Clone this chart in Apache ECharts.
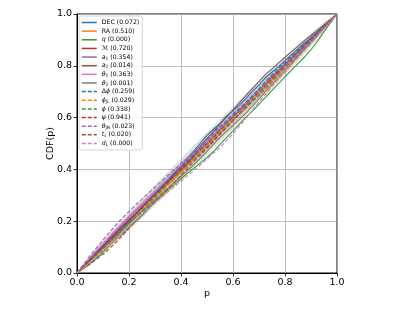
<!DOCTYPE html>
<html>
<head>
<meta charset="utf-8">
<script src="https://cdn.jsdelivr.net/npm/echarts@6/dist/echarts.min.js"></script>
<style>html,body{margin:0;padding:0;background:#fff;}#c{width:415px;height:311px;}</style>
</head>
<body>
<div id="c"></div>
<script>
// p grid for the curves (x values)
const pGrid = [0,.025,.05,.075,.1,.125,.15,.175,.2,.225,.25,.275,.3,.325,.35,.375,.4,.425,.45,.475,.5,
               .525,.55,.575,.6,.625,.65,.675,.7,.725,.75,.775,.8,.825,.85,.875,.9,.925,.95,.975,1];
// p grid for the confidence bands
const pBand = [0,.05,.1,.15,.2,.25,.3,.35,.4,.45,.5,.55,.6,.65,.7,.75,.8,.85,.9,.95,1];
const tickValues = [0,0.2,0.4,0.6,0.8,1.0];
// confidence band half-widths (3, 2, 1 sigma)
const band3 = [0,.020,.027,.032,.036,.039,.041,.042,.043,.044,.044,.044,.043,.042,.041,.039,.036,.032,.027,.020,0];
const band2 = [0,.013,.018,.021,.024,.026,.027,.028,.029,.029,.029,.029,.029,.028,.027,.026,.024,.021,.018,.013,0];
const band1 = [0,.007,.009,.011,.012,.013,.014,.014,.014,.015,.015,.015,.014,.014,.014,.013,.012,.011,.009,.007,0];

// series CDF values
const cdfDEC   = [0,.027,.054,.082,.106,.134,.158,.182,.205,.228,.254,.281,.307,.334,.360,.388,.416,.444,.472,.502,.532,.555,.578,.606,.626,.648,.674,.702,.726,.754,.776,.797,.820,.843,.866,.888,.909,.932,.954,.977,1];
const cdfRA    = [0,.024,.047,.070,.095,.118,.142,.166,.190,.217,.243,.270,.296,.319,.342,.364,.388,.415,.440,.466,.492,.519,.545,.567,.590,.613,.637,.665,.692,.719,.746,.769,.793,.816,.842,.869,.895,.921,.948,.974,1];
const cdfQ     = [0,.017,.036,.057,.080,.106,.130,.152,.176,.198,.222,.249,.275,.297,.320,.342,.364,.385,.405,.425,.446,.469,.497,.523,.549,.576,.602,.625,.652,.678,.705,.731,.757,.783,.808,.834,.862,.895,.932,.966,1];
const cdfMc    = [0,.027,.053,.079,.104,.128,.154,.178,.202,.229,.255,.280,.304,.327,.351,.374,.397,.423,.450,.477,.504,.530,.556,.580,.604,.627,.651,.678,.705,.732,.758,.782,.806,.829,.853,.878,.903,.927,.952,.976,1];
const cdfA1    = [0,.029,.057,.084,.110,.137,.163,.189,.215,.239,.263,.286,.310,.334,.360,.383,.407,.431,.455,.478,.502,.528,.554,.581,.607,.631,.655,.679,.704,.728,.752,.778,.805,.831,.856,.880,.904,.928,.952,.976,1];
const cdfA2    = [0,.027,.053,.076,.100,.123,.146,.170,.197,.225,.252,.279,.305,.331,.354,.382,.409,.437,.464,.492,.520,.547,.575,.602,.630,.658,.686,.713,.740,.767,.788,.811,.833,.855,.876,.897,.917,.938,.958,.979,1];
const cdfT1    = [0,.030,.059,.087,.114,.141,.168,.194,.220,.246,.270,.294,.318,.344,.370,.393,.416,.438,.461,.484,.507,.532,.558,.584,.610,.634,.657,.680,.704,.728,.752,.776,.800,.823,.847,.871,.895,.921,.948,.974,1];
const cdfT2    = [0,.023,.046,.069,.093,.116,.139,.165,.191,.214,.237,.259,.282,.305,.328,.350,.373,.395,.418,.444,.470,.497,.523,.546,.570,.593,.617,.644,.672,.700,.727,.754,.781,.808,.836,.864,.891,.919,.946,.973,1];
const cdfDphi  = [0,.027,.053,.079,.105,.128,.152,.174,.197,.224,.250,.277,.304,.331,.358,.384,.410,.435,.459,.486,.513,.540,.566,.589,.613,.636,.660,.685,.711,.739,.766,.790,.814,.837,.860,.883,.906,.929,.953,.976,1];
const cdfPhiJL = [0,.021,.043,.065,.086,.107,.129,.150,.173,.199,.226,.254,.282,.309,.337,.363,.389,.412,.434,.457,.480,.506,.532,.559,.586,.614,.641,.664,.687,.709,.732,.758,.784,.812,.839,.866,.893,.920,.946,.973,1];
const cdfPhi   = [0,.023,.046,.070,.093,.119,.144,.168,.191,.215,.239,.265,.292,.319,.346,.371,.395,.418,.441,.464,.487,.513,.539,.566,.592,.615,.639,.662,.685,.712,.739,.766,.792,.815,.839,.865,.891,.919,.946,.973,1];
const cdfPsi   = [0,.026,.052,.076,.100,.127,.153,.179,.205,.228,.252,.275,.299,.326,.352,.378,.404,.428,.452,.475,.498,.524,.550,.577,.603,.629,.655,.678,.702,.725,.749,.775,.802,.828,.853,.877,.900,.926,.952,.976,1];
const cdfTJN   = [0,.034,.066,.097,.128,.157,.186,.213,.238,.262,.285,.309,.332,.355,.378,.400,.422,.445,.467,.490,.512,.535,.559,.583,.608,.632,.655,.678,.702,.726,.750,.773,.797,.821,.845,.870,.896,.922,.948,.974,1];
const cdfTc    = [0,.017,.034,.053,.072,.094,.118,.145,.173,.201,.228,.254,.280,.303,.325,.351,.377,.404,.431,.457,.483,.509,.536,.563,.589,.616,.643,.670,.697,.724,.750,.777,.803,.829,.855,.879,.903,.928,.952,.976,1];
const cdfDL    = [0,.020,.041,.064,.087,.111,.134,.157,.180,.203,.226,.248,.270,.292,.313,.334,.354,.375,.396,.418,.440,.462,.485,.511,.538,.567,.597,.628,.660,.690,.720,.748,.776,.804,.832,.859,.886,.915,.943,.971,1];

const seriesNames = ['DEC','RA','q','Mc','a1','a2','theta1','theta2','dphi','phiJL','phi','psi','thetaJN','tc','dL'];
const seriesLabels = [
  'DEC (0.072)', 'RA (0.510)', '{i|q} (0.000)', '\u2133 (0.720)', '{i|a}{s|1} (0.354)', '{i|a}{s|2} (0.014)',
  '{i|\u03b8}{s|1} (0.363)', '{i|\u03b8}{s|2} (0.001)', '\u0394{i|\u03d5} (0.259)', '{i|\u03d5}{s|JL} (0.029)',
  '{i|\u03d5} (0.338)', '{i|\u03c8} (0.941)', '{i|\u03b8}{s|JN} (0.023)', '{i|t}{s|c} (0.020)', '{i|d}{s|L} (0.000)'
];
const seriesValues = [cdfDEC,cdfRA,cdfQ,cdfMc,cdfA1,cdfA2,cdfT1,cdfT2,cdfDphi,cdfPhiJL,cdfPhi,cdfPsi,cdfTJN,cdfTc,cdfDL];
const seriesColors = ['#1f77b4','#ff7f0e','#2ca02c','#d62728','#9467bd','#8c564b','#e377c2','#7f7f7f',
                      '#1f77b4','#ff7f0e','#2ca02c','#d62728','#9467bd','#8c564b','#e377c2'];
const seriesDashed = [false,false,false,false,false,false,false,false,true,true,true,true,true,true,true];

const FONT = 'DejaVu Sans';

function bandSeries(hw) {
  return {
    type: 'custom',
    silent: true,
    z: 1,
    data: [[0, 0]],
    renderItem: function (params, api) {
      const pts = [];
      for (let i = 0; i < pBand.length; i++) pts.push(api.coord([pBand[i], pBand[i] + hw[i]]));
      for (let i = pBand.length - 1; i >= 0; i--) pts.push(api.coord([pBand[i], pBand[i] - hw[i]]));
      return { type: 'polygon', shape: { points: pts }, style: { fill: 'rgba(0,0,0,0.11)' } };
    }
  };
}

const lineSeries = seriesNames.map((n, k) => ({
  name: n,
  type: 'line',
  data: pGrid.map((p, i) => [p, seriesValues[k][i]]),
  symbol: 'none',
  showSymbol: false,
  z: 3,
  color: seriesColors[k],
  lineStyle: { width: 1.1, color: seriesColors[k], type: seriesDashed[k] ? [4, 2] : 'solid' },
  emphasis: { disabled: true },
  animation: false
}));

const labelMap = {};
seriesNames.forEach((n, k) => labelMap[n] = seriesLabels[k]);

const axisCommon = {
  type: 'value', min: 0, max: 1, interval: 0.2,
  axisLine: { show: true, lineStyle: { color: '#000', width: 1 } },
  axisTick: { show: true, inside: false, length: 3.5, lineStyle: { color: '#000', width: 0.8 } },
  axisLabel: { color: '#000', fontFamily: FONT, fontSize: 9.5, margin: 5, formatter: v => v.toFixed(1) },
  splitLine: { show: true, lineStyle: { color: '#b0b0b0', width: 0.8 } },
  nameMoveOverlap: false,
  nameTextStyle: { color: '#000', fontFamily: FONT, fontSize: 9.5 }
};

const chart = echarts.init(document.getElementById('c'), null, { renderer: 'canvas' });
chart.setOption({
  animation: false,
  backgroundColor: '#fff',
  grid: { left: 77, right: 78, top: 14, bottom: 38, show: true, borderColor: '#000', borderWidth: 1, backgroundColor: 'transparent' },
  xAxis: Object.assign({}, axisCommon, { name: 'p', nameLocation: 'middle', nameGap: 16 }),
  yAxis: Object.assign({}, axisCommon, { name: 'CDF(p)', nameLocation: 'middle', nameGap: 21 }),
  legend: {
    data: seriesNames,
    orient: 'vertical',
    left: 79, top: 16,
    itemWidth: 15, itemHeight: 7, itemGap: 1.64,
    padding: [3, 3, 3, 2],
    backgroundColor: 'rgba(255,255,255,0.8)',
    borderColor: '#cccccc', borderWidth: 0.8, borderRadius: 2,
    selectedMode: false,
    itemStyle: { opacity: 0 },
    lineStyle: { width: 1.5 },
    formatter: name => labelMap[name],
    textStyle: {
      fontFamily: FONT, fontSize: 6.2, color: '#000', lineHeight: 7,
      rich: {
        i: { fontFamily: FONT, fontSize: 6.2, fontStyle: 'italic', color: '#000', lineHeight: 7 },
        s: { fontFamily: FONT, fontSize: 4.4, color: '#000', verticalAlign: 'bottom', lineHeight: 7 }
      }
    }
  },
  series: [bandSeries(band3), bandSeries(band2), bandSeries(band1)].concat(lineSeries)
});
</script>
</body>
</html>
